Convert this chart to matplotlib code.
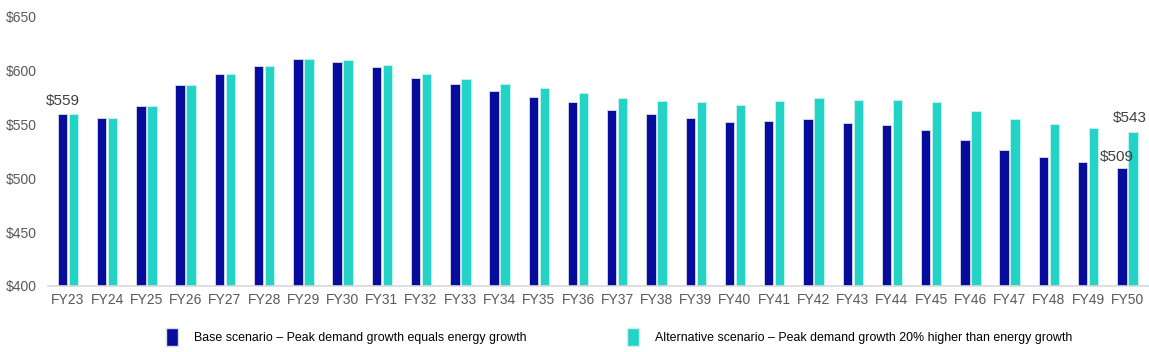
import matplotlib.pyplot as plt
import numpy as np
from matplotlib.patches import Patch

# data
years = ['FY23', 'FY24', 'FY25', 'FY26', 'FY27', 'FY28', 'FY29', 'FY30', 'FY31', 'FY32',
         'FY33', 'FY34', 'FY35', 'FY36', 'FY37', 'FY38', 'FY39', 'FY40', 'FY41', 'FY42',
         'FY43', 'FY44', 'FY45', 'FY46', 'FY47', 'FY48', 'FY49', 'FY50']
base = [559, 556, 567, 586, 596, 604, 610, 607, 603, 593,
        587, 581, 575, 570, 563, 559, 556, 552, 553, 555,
        551, 549, 544, 535, 526, 519, 515, 509]
alt = [559, 556, 567, 586, 596, 604, 610, 609, 605, 596,
       592, 587, 583, 579, 574, 571, 570, 568, 571, 574,
       572, 572, 570, 562, 555, 550, 546, 543]

base_name = 'Base scenario \u2013 Peak demand growth equals energy growth'
alt_name = 'Alternative scenario \u2013 Peak demand growth 20% higher than energy growth'

c_base = '#060c9c'
c_alt = '#22d3c6'
grey = '#595959'

plt.rcParams['font.family'] = ['Liberation Sans', 'DejaVu Sans']

fig = plt.figure(figsize=(11.49, 3.52), dpi=100)
ax = fig.add_axes([0.042, 0.1875, 0.958, 0.767])

x = np.arange(len(years))
w = 0.24
off = w / 2 + 0.02
ax.bar(x - off, base, w, color=c_base, edgecolor='#d8dcf0', linewidth=0.6)
ax.bar(x + off, alt, w, color=c_alt, edgecolor='#c8f4f0', linewidth=0.6)

ax.set_ylim(400, 650)
ax.set_xlim(-0.5, 27.55)
ax.set_yticks(range(400, 651, 50))
ax.set_yticklabels(['$%d' % v for v in range(400, 651, 50)])
ax.set_xticks(x)
ax.set_xticklabels(years)
ax.tick_params(axis='both', length=0, labelsize=10, colors=grey)
ax.tick_params(axis='y', pad=8.5)
ax.tick_params(axis='x', pad=5)

for s in ['top', 'right', 'left']:
    ax.spines[s].set_visible(False)
ax.spines['bottom'].set_color('#d9d9d9')
ax.spines['bottom'].set_linewidth(1.2)

# value labels
lab = dict(fontsize=11, color='#404040')
ax.text(x[0] - off, base[0] + 6, '$%d' % base[0], ha='center', va='bottom', **lab)
ax.text(x[-1] - off - 0.12, base[-1] + 4, '$%d' % base[-1], ha='center', va='bottom', **lab)
ax.text(x[-1] + 0.5, alt[-1] + 6, '$%d' % alt[-1], ha='right', va='bottom', **lab)

handles = [Patch(facecolor=c_base, edgecolor='#d8dcf0', label=base_name),
           Patch(facecolor=c_alt, edgecolor='#c8f4f0', label=alt_name)]
fig.legend(handles=handles, loc='center', bbox_to_anchor=(0.539, 0.043), ncol=2,
           frameon=False, handlelength=1.0, handleheight=1.9,
           handletextpad=1.3, columnspacing=8.1,
           prop={'family': ['Liberation Sans Narrow', 'Liberation Sans'], 'size': 8.9})

fig.savefig('out.png', dpi=100)
